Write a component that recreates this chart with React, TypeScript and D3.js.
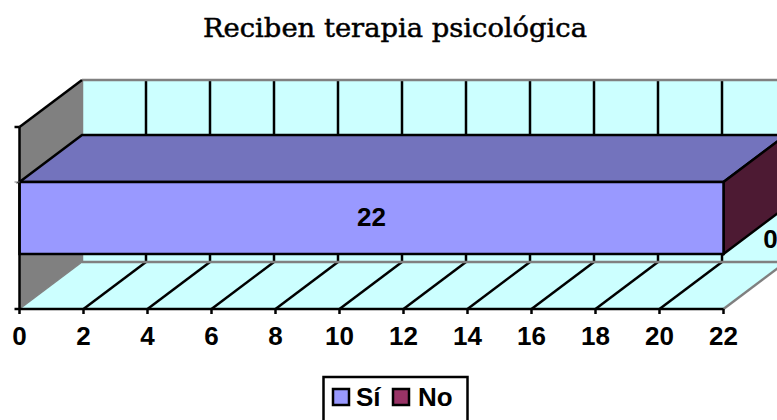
import React from 'react';
import * as d3 from 'd3';

const title = 'Reciben terapia psicológica';
const categories = ['Terapia'];
const seriesNames = ['Sí', 'No'];
const seriesValues = [22, 0];
const xTicks = [0, 2, 4, 6, 8, 10, 12, 14, 16, 18, 20, 22];

const colors = ['#9999ff', '#993366'];
const topColor = '#7373bd';
const sideColor = '#4d1a33';

const W = 777;
const H = 420;
const depthX = 62.5;
const depthY = 47;
const front = { left: 19.5, right: 723.5, top: 127, bottom: 309 };
const sansFont = '"Liberation Sans", Arial, sans-serif';
const labelSize = 26;
const lineW = 2.5;

const x = d3.scaleLinear().domain([0, 22]).range([front.left, front.right]);
const y = d3.scaleBand().domain(categories).range([front.top, front.bottom]).paddingInner(0).paddingOuter(0.764);

const poly = (pts: number[][]) => d3.line()(pts as [number, number][]) + 'Z';

export default function App() {
  const barTop = y(categories[0]) as number;
  const barBottom = barTop + y.bandwidth();
  const stacked = d3.cumsum(seriesValues);
  const backLeft = front.left + depthX;
  const backRight = front.right + depthX;
  const backTop = front.top - depthY;
  const backBottom = front.bottom - depthY;
  const endX = x(stacked[0]);

  return (
    <svg width={W} height={H} style={{ position: 'absolute', left: 0, top: 0 }}>
      <rect width={W} height={H} fill="#fff" />
      <text x={395} y={36.5} textAnchor="middle" fontFamily='"DejaVu Serif", serif' fontSize={26} fill="#000" stroke="#000" strokeWidth={0.5} textLength={384} lengthAdjust="spacingAndGlyphs">{title}</text>

      {/* back wall and side wall */}
      <rect x={backLeft} y={backTop} width={backRight - backLeft} height={backBottom - backTop} fill="#ccffff" />
      <path d={poly([[front.left, front.top], [backLeft, backTop], [backLeft, backBottom], [front.left, front.bottom]])} fill="#808080" />
      <path d={poly([[front.left, front.bottom], [backLeft, backBottom], [backRight, backBottom], [front.right, front.bottom]])} fill="#ccffff" />

      {xTicks.slice(1).map(t => (
        <line key={'back' + t} x1={x(t) + depthX} x2={x(t) + depthX} y1={backTop} y2={backBottom} stroke="#000" strokeWidth={lineW} />
      ))}
      {xTicks.slice(1, -1).map(t => (
        <line key={'floor' + t} x1={x(t)} x2={x(t) + depthX} y1={front.bottom} y2={backBottom} stroke="#000" strokeWidth={lineW} />
      ))}
      <line x1={x(22)} x2={x(22) + depthX} y1={front.bottom} y2={backBottom} stroke="#808080" strokeWidth={lineW} />

      {/* wall borders */}
      <line x1={backLeft} x2={W} y1={backTop} y2={backTop} stroke="#808080" strokeWidth={lineW} />
      <line x1={backLeft} x2={W} y1={backBottom} y2={backBottom} stroke="#808080" strokeWidth={lineW} />
      <line x1={backLeft} x2={backLeft} y1={backTop} y2={backBottom} stroke="#808080" strokeWidth={lineW} />
      <line x1={front.left} x2={backLeft} y1={front.bottom} y2={backBottom} stroke="#808080" strokeWidth={1.5} />
      <line x1={front.left} x2={backLeft} y1={front.top} y2={backTop} stroke="#000" strokeWidth={lineW} />

      {/* bar */}
      <path d={poly([[x(0), barTop], [x(0) + depthX, barTop - depthY], [endX + depthX, barTop - depthY], [endX, barTop]])} fill={topColor} stroke="#000" strokeWidth={lineW} />
      <path d={poly([[endX, barTop], [endX + depthX, barTop - depthY], [endX + depthX, barBottom - depthY], [endX, barBottom]])} fill={sideColor} stroke="#000" strokeWidth={lineW} />
      <rect x={x(0)} y={barTop} width={endX - x(0)} height={barBottom - barTop} fill={colors[0]} stroke="#000" strokeWidth={lineW} />

      {/* axes */}
      <line x1={front.left} x2={front.left} y1={front.top} y2={front.bottom} stroke="#000" strokeWidth={lineW} />
      <line x1={front.left} x2={front.right} y1={front.bottom} y2={front.bottom} stroke="#000" strokeWidth={lineW} />
      <line x1={front.left - 5} x2={front.left} y1={front.top} y2={front.top} stroke="#000" strokeWidth={lineW} />
      <line x1={front.left - 5} x2={front.left} y1={barTop} y2={barTop} stroke="#808080" strokeWidth={1} />
      <line x1={front.left - 5} x2={front.left} y1={front.bottom} y2={front.bottom} stroke="#000" strokeWidth={lineW} />
      {xTicks.map(t => (
        <g key={t}>
          <line x1={x(t)} x2={x(t)} y1={front.bottom} y2={front.bottom + 5} stroke="#000" strokeWidth={lineW} />
          <text x={x(t)} y={345} textAnchor="middle" fontFamily={sansFont} fontWeight="bold" fontSize={labelSize} fill="#000">{t}</text>
        </g>
      ))}

      {/* data labels */}
      <text x={(x(0) + endX) / 2} y={226} textAnchor="middle" fontFamily={sansFont} fontWeight="bold" fontSize={labelSize} fill="#000">{seriesValues[0]}</text>
      <text x={endX + 47} y={248} textAnchor="middle" fontFamily={sansFont} fontWeight="bold" fontSize={labelSize} fill="#000">{seriesValues[1]}</text>

      {/* legend */}
      <rect x={323.5} y={377} width={144} height={60} fill="#fff" stroke="#000" strokeWidth={lineW} />
      {seriesNames.map((name, i) => {
        const sx = i === 0 ? 333 : 393;
        return (
          <g key={name}>
            <rect x={sx} y={389} width={16} height={16} fill={colors[i]} stroke="#000" strokeWidth={lineW} />
            <text x={sx + (i === 0 ? 23 : 25)} y={406} fontFamily={sansFont} fontWeight="bold" fontSize={labelSize} fill="#000">{name}</text>
          </g>
        );
      })}
    </svg>
  );
}
